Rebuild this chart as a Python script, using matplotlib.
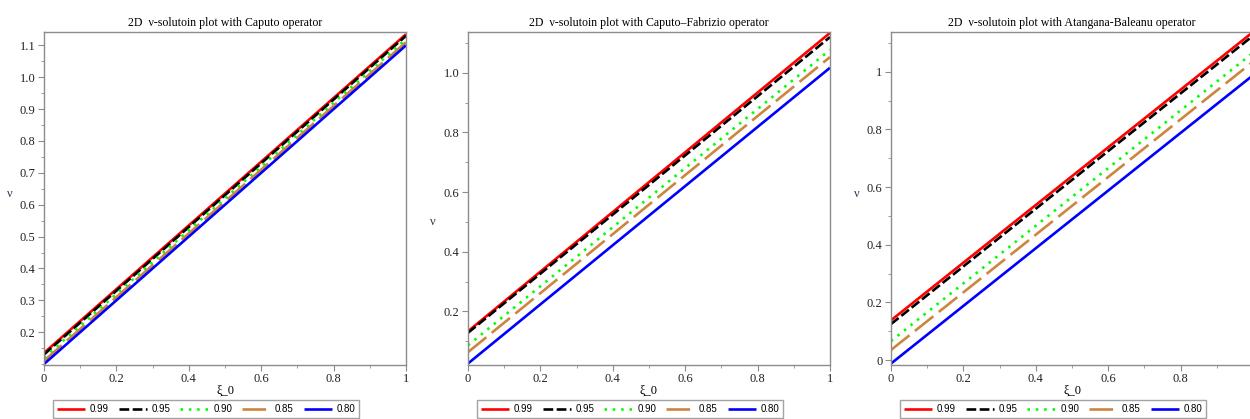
import matplotlib
matplotlib.use("Agg")
import matplotlib.pyplot as plt
from matplotlib.ticker import MultipleLocator

plt.rcParams['lines.scale_dashes'] = False

# ---- data ----
xi = [0.0, 1.0]
labels = ["0.99", "0.95", "0.90", "0.85", "0.80"]
titles = ["2D  \u03bd-solutoin plot with Caputo operator",
          "2D  \u03bd-solutoin plot with Caputo\u2013Fabrizio operator",
          "2D  \u03bd-solutoin plot with Atangana-Baleanu operator"]

# values of v at xi = 0 and xi = 1 for each order
caputo_099 = [0.135, 1.135]
caputo_095 = [0.130, 1.130]
caputo_090 = [0.120, 1.120]
caputo_085 = [0.110, 1.110]
caputo_080 = [0.100, 1.100]

cf_099 = [0.133, 1.134]
cf_095 = [0.128, 1.120]
cf_090 = [0.086, 1.077]
cf_085 = [0.063, 1.053]
cf_080 = [0.025, 1.017]

ab_099 = [0.138, 1.138]
ab_095 = [0.125, 1.125]
ab_090 = [0.066, 1.066]
ab_085 = [0.035, 1.035]
ab_080 = [-0.012, 0.988]

panels = [
    [caputo_099, caputo_095, caputo_090, caputo_085, caputo_080],
    [cf_099, cf_095, cf_090, cf_085, cf_080],
    [ab_099, ab_095, ab_090, ab_085, ab_080],
]
ylims = [(0.097, 1.142), (0.02, 1.137), (-0.017, 1.138)]
ymajor = [0.1, 0.2, 0.2]
yticks = [[0.2, 0.3, 0.4, 0.5, 0.6, 0.7, 0.8, 0.9, 1.0, 1.1],
          [0.2, 0.4, 0.6, 0.8, 1.0],
          [0.0, 0.2, 0.4, 0.6, 0.8, 1.0]]
yticklabels = [["0.2", "0.3", "0.4", "0.5", "0.6", "0.7", "0.8", "0.9", "1.0", "1.1"],
               ["0.2", "0.4", "0.6", "0.8", "1.0"],
               ["0", "0.2", "0.4", "0.6", "0.8", "1"]]
xticks = [[0, 0.2, 0.4, 0.6, 0.8, 1.0],
          [0, 0.2, 0.4, 0.6, 0.8, 1.0],
          [0, 0.2, 0.4, 0.6, 0.8]]
xticklabels = [["0", "0.2", "0.4", "0.6", "0.8", "1"],
               ["0", "0.2", "0.4", "0.6", "0.8", "1"],
               ["0", "0.2", "0.4", "0.6", "0.8"]]

# ---- styles ----
colors = ["#ff0000", "#000000", "#00ff00", "#cd853f", "#0000ff"]
styles = [dict(ls="-"),
          dict(dashes=(7, 2.5)),
          dict(dashes=(1.8, 4.2)),
          dict(dashes=(17, 5)),
          dict(ls="-")]
lw = 1.9

W, H = 1250, 419
fig = plt.figure(figsize=(W / 100, H / 100), dpi=100)

ax_left_px = [44, 468, 891]
ax_w_px = 362
ax_top_px, ax_bot_px = 32, 365
ylabel_pos_px = [(10, 200), (433, 228), (857, 200)]
legend_left_px = [53, 477, 900]

serif = ["Liberation Serif", "DejaVu Serif"]
sans = ["Liberation Sans", "DejaVu Sans"]
gray = "#8c8c8c"

for i in range(3):
    ax = fig.add_axes([ax_left_px[i] / W, (H - ax_bot_px) / H,
                       ax_w_px / W, (ax_bot_px - ax_top_px) / H])
    for k in range(5):
        ax.plot(xi, panels[i][k], color=colors[k], lw=lw,
                solid_capstyle="butt", dash_capstyle="butt",
                label=labels[k], **styles[k])
    ax.set_xlim(0, 1)
    ax.set_ylim(*ylims[i])
    ax.set_xticks(xticks[i])
    ax.set_xticklabels(xticklabels[i], family=serif, fontsize=9)
    ax.set_yticks(yticks[i])
    ax.set_yticklabels(yticklabels[i], family=serif, fontsize=9)
    ax.xaxis.set_minor_locator(MultipleLocator(0.1))
    ax.yaxis.set_minor_locator(MultipleLocator(ymajor[i] / 2))
    ax.tick_params(which="major", direction="out", length=4, color=gray,
                   labelcolor="#222222", pad=2)
    ax.tick_params(which="minor", direction="out", length=2.5, color=gray)
    for s in ax.spines.values():
        s.set_color(gray)
        s.set_linewidth(1.0)
    ax.set_title(titles[i], family=serif, fontsize=8.6, pad=4)
    ax.set_xlabel("\u03be_0", family=serif, fontsize=9)
    ax.xaxis.set_label_coords(0.5, -(385 - ax_bot_px) / (ax_bot_px - ax_top_px))
    ax.set_ylabel("\u03bd", family=serif, fontsize=9, rotation=0, color="#333355")
    lx, ly = ylabel_pos_px[i]
    ax.yaxis.set_label_coords((lx - ax_left_px[i]) / ax_w_px,
                              (ax_bot_px - ly) / (ax_bot_px - ax_top_px))
    leg = ax.legend(loc="lower left",
                    bbox_to_anchor=(legend_left_px[i] / W, 1.0 / H),
                    bbox_transform=fig.transFigure, ncol=5,
                    prop={"family": sans, "size": 7},
                    handlelength=2.9, handletextpad=0.5, columnspacing=1.0,
                    borderpad=0.4, borderaxespad=0, frameon=True,
                    fancybox=False, edgecolor=gray)
    leg.get_frame().set_linewidth(1.0)

fig.savefig("out.png", dpi=100)
